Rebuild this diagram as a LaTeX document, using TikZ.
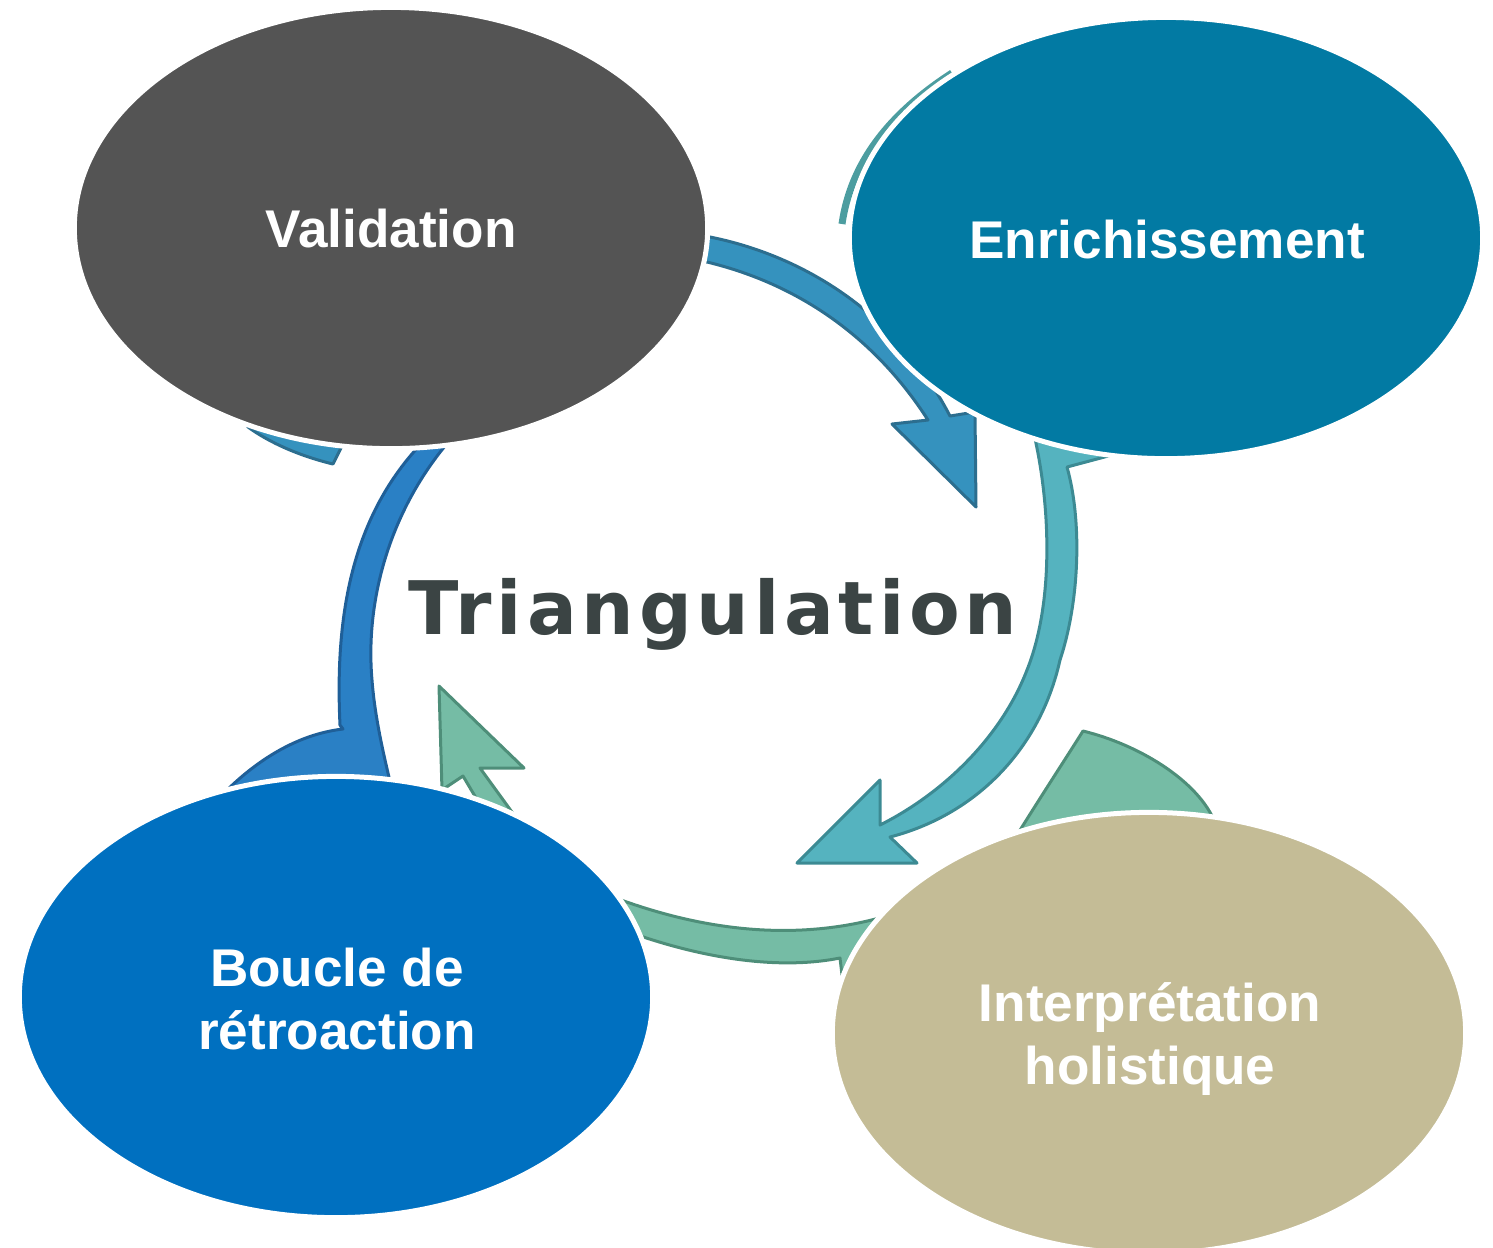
\documentclass[tikz,border=0pt]{standalone}
\usepackage{fontspec}
\setmainfont{Liberation Sans}
\newfontfamily\trifont{DejaVu Sans Bold}[LetterSpace=6.5]
\usetikzlibrary{shapes.geometric}
\definecolor{cValid}{HTML}{545454}
\definecolor{cEnrich}{HTML}{027AA3}
\definecolor{cBoucle}{HTML}{0070C0}
\definecolor{cInterp}{HTML}{C4BC96}
\definecolor{cTri}{HTML}{3B4444}
\definecolor{aOneFill}{HTML}{3592BE}
\definecolor{aOneLine}{HTML}{2C6E8F}
\definecolor{aTwoFill}{HTML}{55B3BF}
\definecolor{aTwoLine}{HTML}{3C8A93}
\definecolor{aThreeFill}{HTML}{75BCA5}
\definecolor{aThreeLine}{HTML}{4E8E79}
\definecolor{aFourFill}{HTML}{2A80C5}
\definecolor{aFourLine}{HTML}{1F5F98}
\definecolor{aTail}{HTML}{4C9DA0}
\begin{document}
\begin{tikzpicture}[x=0.01cm,y=-0.01cm,
  bubble/.style={ellipse, draw=white, line width=0.05cm,
    minimum width=6.33cm, minimum height=4.41cm, inner sep=0pt},
  bubbletext/.style={text=white, align=center, inner sep=0pt,
    font=\fontsize{15.1}{17.9}\selectfont\bfseries},
  arrowshape/.style={line width=0.03cm, line join=round}
]
\useasboundingbox (0,0) rectangle (1493,1247);
\clip (0,0) rectangle (1493,1247);

% arrow 1 : Validation -> Enrichissement (blue)
\filldraw[arrowshape, fill=aOneFill, draw=aOneLine]
  (690,234) -- (710,237) .. controls (800,255) and (895,310) .. (950,416)
  -- (975,412) -- (976,507) -- (892,424) -- (928,420)
  .. controls (870,330) and (790,282) .. (707,262) -- (690,262) -- cycle;
% tail of arrow 1 under Validation
\filldraw[arrowshape, fill=aOneFill, draw=aOneLine]
  (240,410) -- (350,420) -- (341,448) -- (333,464)
  .. controls (300,456) and (270,443) .. (248,427) -- cycle;

% arrow 2 : Enrichissement -> Interpretation (teal)
\filldraw[arrowshape, fill=aTwoFill, draw=aTwoLine]
  (1033,430) .. controls (1050,500) and (1055,600) .. (1027,670)
  .. controls (1000,740) and (940,795) .. (880,825)
  -- (880,780) -- (797,863) -- (917,863) -- (890,837)
  .. controls (975,815) and (1040,750) .. (1060,660)
  .. controls (1080,600) and (1082,520) .. (1067,467)
  -- (1112,455) -- (1112,430) -- cycle;
% thin tail at top-left of Enrichissement
\draw[line width=0.07cm, aTail]
  (842,224) .. controls (852,155) and (898,108) .. (952,73);

% arrow 3 : Interpretation -> Boucle (green)
\filldraw[arrowshape, fill=aThreeFill, draw=aThreeLine]
  (1017,835) .. controls (1045,790) and (1068,755) .. (1083,731)
  .. controls (1140,745) and (1195,780) .. (1213,818)
  -- (1213,850) -- (1017,850) -- cycle;
\filldraw[arrowshape, fill=aThreeFill, draw=aThreeLine]
  (600,892) .. controls (690,928) and (790,945) .. (890,915)
  -- (890,990) -- (842,975) -- (840,958)
  .. controls (780,970) and (700,960) .. (610,925) -- cycle;
\filldraw[arrowshape, fill=aThreeFill, draw=aThreeLine]
  (439,686) -- (524,768) -- (480,768) -- (525,830) -- (495,830)
  -- (463,776) -- (442,790) -- cycle;

% arrow 4 : Boucle -> Validation (blue)
\filldraw[arrowshape, fill=aFourFill, draw=aFourLine]
  (200,820) .. controls (240,770) and (290,735) .. (343,729)
  -- (340,725) .. controls (335,620) and (350,520) .. (420,445)
  -- (450,440) .. controls (390,510) and (365,600) .. (372,680)
  .. controls (375,720) and (385,760) .. (392,790) -- cycle;

% bubbles
\node[bubble, fill=cValid]  (valid)  at (391,228)  {};
\node[bubble, fill=cEnrich] (enrich) at (1166,238) {};
\node[bubble, fill=cBoucle] (boucle) at (336,997)  {};
\node[bubble, fill=cInterp] (interp) at (1149,1033) {};

\node[bubbletext] (validtxt)  at (391,229)  {Validation};
\node[bubbletext] (enrichtxt) at (1167,240) {Enrichissement};
\node[bubbletext] (boucletxt) at (337,999)  {Boucle de\\rétroaction};
\node[bubbletext] (interptxt) at (1150,1039) {Interprétation\\holistique};

\node[font={\trifont\fontsize{21}{25}\selectfont}, text=cTri, anchor=base, inner sep=0pt]
  (tri) at (713,634) {Triangulation};
\end{tikzpicture}
\end{document}
